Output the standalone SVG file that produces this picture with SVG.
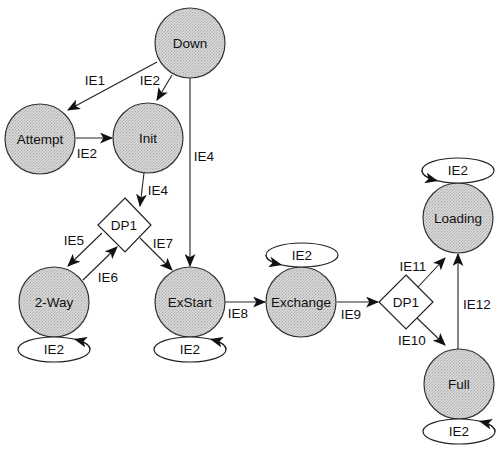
<svg xmlns="http://www.w3.org/2000/svg" width="500" height="454" viewBox="0 0 500 454">
<defs>
<pattern id="stip" width="3" height="3" patternUnits="userSpaceOnUse">
<rect width="3" height="3" fill="#d6d6d6"/>
<rect x="0" y="0" width="1" height="1" fill="#aaaaaa"/>
<rect x="2" y="1" width="1" height="1" fill="#b8b8b8"/>
<rect x="1" y="2" width="1" height="1" fill="#c0c0c0"/>
</pattern>
<marker id="arr" viewBox="0 0 12 10" refX="11" refY="5" markerWidth="13" markerHeight="11" markerUnits="userSpaceOnUse" orient="auto">
<path d="M0,0 L12,5 L0,10 L3,5 Z" fill="#111"/>
</marker>
</defs>
<style>
.st{fill:url(#stip);stroke:#333;stroke-width:1.2}
.dm{fill:#fff;stroke:#222;stroke-width:1.2}
.lp{fill:#fff;stroke:#222;stroke-width:1.2}
.ed{fill:none;stroke:#222;stroke-width:1.1;marker-end:url(#arr)}
text{font-family:"Liberation Sans",Arial,sans-serif;font-size:13.5px;fill:#111;text-anchor:middle}
</style>
<rect width="500" height="454" fill="#fff"/>
<g id="connectors">
<path class="ed" d="M157,62 L68,110"/>
<path class="ed" d="M172,75 L157,100"/>
<path class="ed" d="M76,138 L112,138"/>
<path class="ed" d="M190,78 L190,266"/>
<path class="ed" d="M144,173 L140,206"/>
<path class="ed" d="M102,233 L68,266"/>
<path class="ed" d="M83,280 L117,247"/>
<path class="ed" d="M140,238 L172,270"/>
<path class="ed" d="M225,302 L265,302"/>
<path class="ed" d="M337,302 L378,302"/>
<path class="ed" d="M418,287 L445,258"/>
<path class="ed" d="M417,318 L445,345"/>
<path class="ed" d="M458,349 L458,254"/>
<text x="95" y="85">IE1</text>
<text x="150" y="85">IE2</text>
<text x="87" y="158">IE2</text>
<text x="204" y="161">IE4</text>
<text x="158" y="195">IE4</text>
<text x="74" y="245">IE5</text>
<text x="108" y="282">IE6</text>
<text x="163" y="248">IE7</text>
<text x="238" y="318">IE8</text>
<text x="351" y="319">IE9</text>
<text x="413" y="271">IE11</text>
<text x="412" y="345">IE10</text>
<text x="477" y="309">IE12</text>
</g>
<g id="down"><circle class="st" cx="190" cy="43" r="35"/><text x="190" y="48">Down</text></g>
<g id="attempt"><circle class="st" cx="40" cy="139" r="35"/><text x="40" y="144">Attempt</text></g>
<g id="init"><circle class="st" cx="148" cy="138" r="35"/><text x="148" y="143">Init</text></g>
<g id="dp1-left"><path class="dm" d="M125,198 L151,225 L125,252 L98,225 Z"/><text x="124" y="230">DP1</text></g>
<g id="twoway"><circle class="st" cx="54" cy="302" r="35"/><text x="54" y="307">2-Way</text>
<ellipse class="lp" cx="54" cy="349.5" rx="36" ry="12.5"/><path class="ed" d="M90,349.5 A36,12.5 0 0 0 75,339.3"/><text x="54" y="354">IE2</text></g>
<g id="exstart"><circle class="st" cx="190" cy="302" r="35"/><text x="190" y="307">ExStart</text>
<ellipse class="lp" cx="190" cy="349.5" rx="36" ry="12.5"/><path class="ed" d="M226,349.5 A36,12.5 0 0 0 211,339.3"/><text x="190" y="354">IE2</text></g>
<g id="exchange"><circle class="st" cx="301" cy="302" r="35"/><text x="301" y="307">Exchange</text>
<ellipse class="lp" cx="302" cy="255" rx="36" ry="12"/><path class="ed" d="M266,255 A36,12 0 0 0 281,264.8"/><text x="302" y="260">IE2</text></g>
<g id="dp1-right"><path class="dm" d="M406,275 L433,302 L406,329 L379,302 Z"/><text x="406" y="307">DP1</text></g>
<g id="loading"><circle class="st" cx="458" cy="218" r="35"/><text x="458" y="223">Loading</text>
<ellipse class="lp" cx="458" cy="170.5" rx="36" ry="12.5"/><path class="ed" d="M422,170.5 A36,12.5 0 0 0 437,180.8"/><text x="458" y="175">IE2</text></g>
<g id="full"><circle class="st" cx="459" cy="384" r="35"/><text x="459" y="389">Full</text>
<ellipse class="lp" cx="459" cy="431.5" rx="36" ry="12.5"/><path class="ed" d="M495,431.5 A36,12.5 0 0 0 480,421.3"/><text x="459" y="436">IE2</text></g>
</svg>
